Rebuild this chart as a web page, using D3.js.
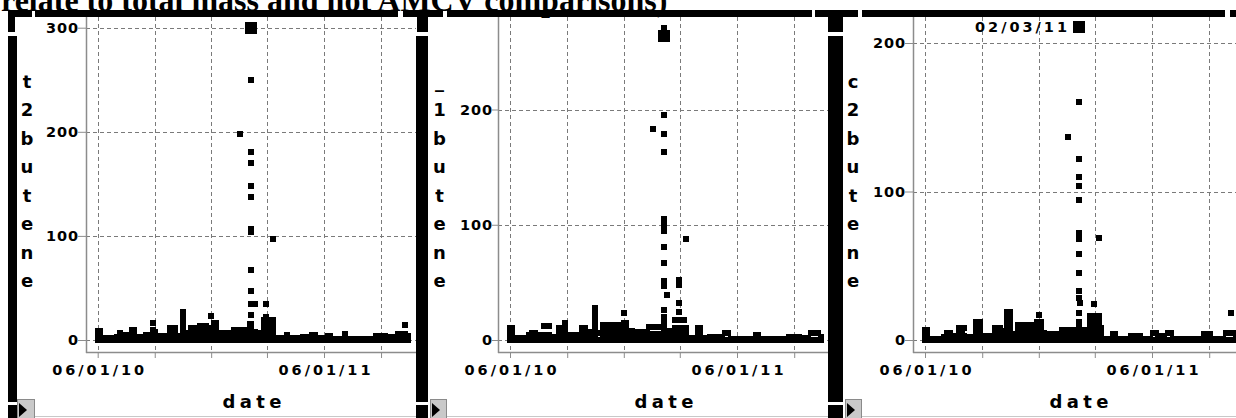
<!DOCTYPE html>
<html>
<head>
<meta charset="utf-8">
<script src="https://cdn.jsdelivr.net/npm/d3@7"></script>
<style>
  html, body { margin: 0; padding: 0; background: #fff; overflow: hidden; }
  svg { display: block; }
</style>
</head>
<body>
<svg id="chart" width="1236" height="418"></svg>
<script>
// Sampling days shared by the three butene series (one list of values per day)
const sampleDates = [
  "2010-06-01","2010-06-04","2010-06-09","2010-06-15","2010-06-21","2010-06-27",
  "2010-07-02","2010-07-07","2010-07-11","2010-07-16","2010-07-21","2010-07-26","2010-07-30",
  "2010-08-03","2010-08-08","2010-08-13","2010-08-18","2010-08-22","2010-08-26","2010-08-29",
  "2010-09-01","2010-09-07","2010-09-12","2010-09-17","2010-09-21","2010-09-25","2010-09-29",
  "2010-10-03","2010-10-07","2010-10-11","2010-10-16","2010-10-20","2010-10-24","2010-10-29",
  "2010-11-03","2010-11-08","2010-11-13","2010-11-18","2010-11-23","2010-11-28",
  "2010-12-01","2010-12-05","2010-12-09","2010-12-14","2010-12-19","2010-12-24","2010-12-29",
  "2011-01-03","2011-01-07","2011-01-11","2011-01-15","2011-01-17","2011-01-21","2011-01-25","2011-01-29",
  "2011-02-01","2011-02-03","2011-02-06","2011-02-09","2011-02-13","2011-02-17","2011-02-21","2011-02-24","2011-02-28",
  "2011-03-04","2011-03-08","2011-03-11","2011-03-15","2011-03-20","2011-03-25","2011-03-30",
  "2011-04-03","2011-04-08","2011-04-13","2011-04-18","2011-04-23","2011-04-28",
  "2011-05-03","2011-05-08","2011-05-13","2011-05-18","2011-05-23","2011-05-28",
  "2011-06-02","2011-06-07","2011-06-11","2011-06-16","2011-06-21","2011-06-26",
  "2011-07-01","2011-07-05","2011-07-10","2011-07-15","2011-07-20","2011-07-25","2011-07-30",
  "2011-08-04","2011-08-09","2011-08-14","2011-08-19","2011-08-24","2011-08-29",
  "2011-09-03","2011-09-08","2011-09-13","2011-09-18","2011-09-23","2011-09-28",
  "2011-10-02","2011-10-06","2011-10-10","2011-10-14"
];

const t2butene = [
  [0,5,9],[0,5,9],[0,2],[0,2],[0,2],[0,2],
  [0,3],[0,4,7],[0,5],[0,5],[0,4],[0,4,10],[0,4,10],
  [0,3],[0,3],[0,3],[0,5],[0,5],[0,5],[0,5,10,16],
  [0,4,8],[0,4],[0,4],[0,4],[0,4],[0,4,8,12],[0,4,8,12],
  [0,4,8,12],[0,4],[0,4],[0,5,10,15,20,24,27],[0,4,7],[0,4,7],[0,4,8,12],
  [0,4,8,12],[0,4,8,12],[0,4,8,13],[0,4,8,13],[0,4,8,13],[0,4,8,12],
  [0,4,8,12,23],[0,4,8,12,16],[0,4,8,12,16],[0,4,7],[0,4,7],[0,4,7],[0,4,7],
  [0,4,7],[0,5,10],[0,5,10],[0,5,10],[0,5,10,198],[0,5,10],[0,5,10],[0,5,10],
  [0,5,10,15],[0,5,10,15,24,35,47,67,104,107,137,148,170,181,250,300],[0,5,8],[0,5,8,35],[0,4,7],[0,4,7],[0,4,7],[0,5,10,15,19],[0,5,10,15,19,22,35],
  [0,5,10,15,19],[0,5,10,15,19],[0,5,10,15,19,97],[0,2],[0,2],[0,2],[0,2],
  [0,5],[0,2],[0,2],[0,2],[0,2],[0,3],
  [0,3],[0,3],[0,5],[0,5],[0,2],[0,2],
  [0,2],[0,4],[0,4],[0,1],[0,1],[0,1],
  [0,1],[0,6],[0,1],[0,1],[0,1],[0,1],[0,1],
  [0,1],[0,1],[0,1],[0,1],[0,4],[0,4],
  [0,4],[0,4],[0,3],[0,3],[0,3],[0,6],
  [0,6],[0,6],[0,6,14],[0,4]
];

const _1butene = [
  [0,5,10],[0,5,10],[0,2],[0,2],[0,2],[0,2],
  [0,4],[0,3,6],[0,6],[0,4],[0,4],[0,4,12],[0,4,12],
  [0,4,12],[0,3],[0,3],[0,5,10],[0,5,10],[0,5,10],[0,5,10,15],
  [0,4],[0,4],[0,4],[0,4],[0,4],[0,5,10],[0,5,10],
  [0,4,7],[0,4,7],[0,6],[0,5,10,15,20,25,28],[0,6],[0,6],[0,5,10,13],
  [0,5,10,13],[0,5,10,13],[0,5,8],[0,5,10,13],[0,5,10,13],[0,5,8],
  [0,5,10,15,23],[0,5,10,15],[0,4,8],[0,4,8],[0,4,7],[0,4,7],[0,4,7],
  [0,4,7],[0,4,7],[0,5,11],[0,5,11],[0,5,11,183],[0,5,11],[0,5,11],[0,5,11],
  [0,5,11],[0,5,10,15,20,26,47,51,67,81,95,100,105,163,179,195,264,271],[0,5,8],[0,5,8,39],[0,5,8],[0,5,8],[0,5,10,17],[0,5,10,17],[0,5,10,17,24,32,48,52],
  [0,5,10,17],[0,5,10,17],[0,5,10,88],[0,2],[0,2],[0,2],[0,5,10],
  [0,5,10],[0,2],[0,2],[0,3],[0,3],[0,3],
  [0,3],[0,3],[0,6],[0,6],[0,1],[0,1],
  [0,1],[0,1],[0,1],[0,1],[0,1],[0,1],
  [0,4],[0,4],[0,1],[0,1],[0,1],[0,1],[0,1],
  [0,1],[0,1],[0,1],[0,1],[0,3],[0,3],
  [0,3],[0,3],[0,2],[0,2],[0,2],[0,6],
  [0,6],[0,6],[0,6],[0,3]
];

const c2butene = [
  [0,4,7],[0,4,7],[0,1],[0,1],[0,1],[0,1],
  [0,2],[0,3,5],[0,5],[0,3],[0,3],[0,4,8],[0,4,8],
  [0,3,8],[0,2],[0,2],[0,2],[0,4,8,12],[0,4,8,12],[0,4,8,12],
  [0,3],[0,3],[0,3],[0,3],[0,4,8],[0,4,8],[0,4,8],
  [0,3,6],[0,3,6],[0,4,8,12,16,19],[0,4,8,12,16,19],[0,4],[0,4],[0,4,8,10],
  [0,4,8,10],[0,4,8,10],[0,4,8,10],[0,4,8,10],[0,4,8,10],[0,4,8,12],
  [0,4,8,12,17],[0,4,8,12],[0,5],[0,4],[0,4],[0,4],[0,4],
  [0,4],[0,4,7],[0,4,7],[0,4,7],[0,4,7,137],[0,4,7],[0,4,7],[0,4,7],
  [0,4,7],[0,4,8,12,18,28,33,45,58,68,72,94,104,110,122,160,211],[0,4,7,25],[0,4,7],[0,4,7],[0,4],[0,4,8,12,16],[0,4,8,12,16],[0,4,8,12,16,24],
  [0,4,8,12,16],[0,4,8,12,16,69],[0,4,8],[0,1],[0,1],[0,1],[0,4],
  [0,4],[0,1],[0,1],[0,1],[0,1],[0,3],
  [0,3],[0,3],[0,3],[0,1],[0,1],[0,1],
  [0,5],[0,5],[0,3],[0,3],[0,3],[0,5],
  [0,5],[0,1],[0,1],[0,1],[0,1],[0,1],[0,1],
  [0,1],[0,1],[0,1],[0,1],[0,4],[0,4],
  [0,4],[0,1],[0,1],[0,1],[0,1],[0,5],
  [0,5],[0,5,18],[0,5],[0,4]
];

const seriesNames = ["t2butene", "_1butene", "c2butene"];
const selectedDate = "2011-02-03";
const selectedValues = [300, 264, 211];
const yTickValues = [[0, 100, 200, 300], [0, 100, 200], [0, 100, 200]];
const xTickDates = ["2010-06-01", "2010-09-01", "2010-12-01", "2011-03-01", "2011-06-01", "2011-09-01"];
const xLabelDates = ["2010-06-01", "2011-06-01"];
const xAxisTitle = "date";
const titleText = "relate to total mass and not AMCV comparisons)";

// ---- drawing ----
const parseDay = d3.timeParse("%Y-%m-%d");
const keyDay = d3.timeFormat("%Y-%m-%d");
const fmtDay = d3.timeFormat("%m/%d/%y");
const svg = d3.select("#chart");
const defs = svg.append("defs");

const plotTop = 17, plotBottom = 352, zeroY = 340;
const gridColor = "#7a7a7a", axisColor = "#8c8c8c";
const labelFont = "'DejaVu Sans', Verdana, sans-serif";
const seriesValues = [t2butene, _1butene, c2butene];

// Per-panel geometry of the report frames and plot areas
const panels = [
  { axisX: 86,  xStart: 97.7, xEnd: 324,  yRef: 27.7,  clipR: 416,  labelR: 78,  letterX: 27,
    tBar: [8, 32],   stem: [8, 15],    main: [35, 398],   side: [8, 17],    button: [17, 35],   pointLabel: false },
  { axisX: 498, xStart: 510,  xEnd: 737,  yRef: 109.5, clipR: 828,  labelR: 492, letterX: 439.5,
    tBar: [403, 443], stem: [417, 428], main: [447, 812], side: [416, 428], button: [430, 447], pointLabel: false },
  { axisX: 913, xStart: 925,  xEnd: 1152, yRef: 43,    clipR: 1236, labelR: 905, letterX: 853,
    tBar: [815, 858], stem: [828, 843], main: [862, 1225], side: [828, 843], button: [845, 862], pointLabel: true }
];

// Title line (partly above the window)
svg.append("text")
  .attr("x", 1).attr("y", 11)
  .attr("font-family", "'Liberation Serif', 'Times New Roman', serif")
  .attr("font-weight", "bold").attr("font-size", 32)
  .attr("fill", "#000")
  .text(titleText);

panels.forEach((p, i) => {
  const ticksY = yTickValues[i];
  const x = d3.scaleTime()
    .domain([parseDay(xLabelDates[0]), parseDay(xLabelDates[1])])
    .range([p.xStart, p.xEnd]);
  const y = d3.scaleLinear()
    .domain([0, ticksY[ticksY.length - 1]])
    .range([zeroY, p.yRef]);

  const g = svg.append("g");
  const clipId = "plot-clip-" + i;
  defs.append("clipPath").attr("id", clipId).append("rect")
    .attr("x", p.axisX).attr("y", plotTop)
    .attr("width", p.clipR - p.axisX).attr("height", plotBottom - plotTop);
  const plot = g.append("g").attr("clip-path", `url(#${clipId})`);

  // dashed reference grid
  plot.selectAll(".hgrid").data(ticksY).join("line")
    .attr("x1", p.axisX).attr("x2", p.clipR)
    .attr("y1", d => Math.round(y(d)) + 0.5).attr("y2", d => Math.round(y(d)) + 0.5)
    .attr("stroke", gridColor).attr("stroke-dasharray", "4,3");
  plot.selectAll(".vgrid").data(xTickDates.map(parseDay)).join("line")
    .attr("x1", d => Math.round(x(d)) + 0.5).attr("x2", d => Math.round(x(d)) + 0.5)
    .attr("y1", plotTop).attr("y2", plotBottom)
    .attr("stroke", gridColor).attr("stroke-dasharray", "4,3");

  // square markers, one per observation
  const pts = sampleDates.flatMap((ds, k) =>
    seriesValues[i][k].map(v => ({ date: parseDay(ds), v })));
  plot.selectAll(".pt").data(pts).join("rect")
    .attr("x", d => Math.round(x(d.date) - 3))
    .attr("y", d => Math.round(y(d.v) - 3))
    .attr("width", 6).attr("height", 6)
    .attr("fill", "#000");

  // selected observation, drawn enlarged
  const sel = { date: parseDay(selectedDate), v: selectedValues[i] };
  plot.append("rect")
    .attr("x", Math.round(x(sel.date) - 6)).attr("y", Math.round(y(sel.v) - 6))
    .attr("width", 12).attr("height", 12).attr("fill", "#000");
  if (p.pointLabel) {
    plot.append("text")
      .attr("x", Math.round(x(sel.date)) - 12).attr("y", Math.round(y(sel.v)) + 5)
      .attr("text-anchor", "end")
      .attr("font-family", labelFont).attr("font-weight", "bold").attr("font-size", 14.5)
      .attr("textLength", 92).attr("lengthAdjust", "spacing")
      .text(fmtDay(sel.date));
  }

  // axis lines
  g.append("line")
    .attr("x1", p.axisX + 0.5).attr("x2", p.axisX + 0.5)
    .attr("y1", plotTop).attr("y2", plotBottom + 1)
    .attr("stroke", axisColor).attr("stroke-width", 1.5);
  g.append("line")
    .attr("x1", p.axisX).attr("x2", p.clipR)
    .attr("y1", plotBottom + 0.5).attr("y2", plotBottom + 0.5)
    .attr("stroke", axisColor).attr("stroke-width", 1.5);

  // y axis ticks and labels
  const yAxis = g.append("g").attr("transform", `translate(${p.axisX},0)`)
    .call(d3.axisLeft(y).tickValues(ticksY).tickSize(p.axisX - p.labelR).tickSizeOuter(0).tickPadding(0));
  yAxis.select(".domain").remove();
  yAxis.selectAll(".tick line").attr("stroke", axisColor);
  yAxis.selectAll(".tick text")
    .attr("font-family", labelFont).attr("font-weight", "bold").attr("font-size", 14.5).attr("fill", "#000")
    .each(function (d) {
      if (String(d).length > 1) d3.select(this).attr("textLength", 32).attr("lengthAdjust", "spacing");
    });

  // x axis ticks and labels
  const xAxis = g.append("g").attr("transform", `translate(0,${plotBottom})`)
    .call(d3.axisBottom(x).tickValues(xTickDates.map(parseDay)).tickSize(6).tickSizeOuter(0).tickPadding(7)
      .tickFormat(d => xLabelDates.includes(keyDay(d)) ? fmtDay(d) : ""));
  xAxis.select(".domain").remove();
  xAxis.selectAll(".tick line").attr("stroke", axisColor);
  xAxis.selectAll(".tick text")
    .attr("font-family", labelFont).attr("font-weight", "bold").attr("font-size", 14.5).attr("fill", "#000")
    .each(function (d) {
      if (xLabelDates.includes(keyDay(d))) d3.select(this).attr("textLength", 92).attr("lengthAdjust", "spacing");
    });

  // axis titles: stacked letters on the left, "date" below
  g.selectAll(".ytitle").data([...seriesNames[i]]).join("text")
    .attr("x", p.letterX).attr("y", (c, k) => 87.5 + k * 28.5)
    .attr("text-anchor", "middle")
    .attr("font-family", labelFont).attr("font-weight", "bold").attr("font-size", 18)
    .text(c => c);
  g.append("text")
    .attr("x", p.axisX + 166).attr("y", 408)
    .attr("text-anchor", "middle")
    .attr("font-family", labelFont).attr("font-weight", "bold").attr("font-size", 18)
    .attr("textLength", 59).attr("lengthAdjust", "spacing")
    .text(xAxisTitle);

  // report outline frame
  const frame = svg.append("g").attr("fill", "#000");
  frame.append("rect").attr("x", p.tBar[0]).attr("y", 10).attr("width", p.tBar[1] - p.tBar[0]).attr("height", 7);
  frame.append("rect").attr("x", p.stem[0]).attr("y", 10).attr("width", p.stem[1] - p.stem[0]).attr("height", 22);
  frame.append("rect").attr("x", p.main[0]).attr("y", 10).attr("width", p.main[1] - p.main[0]).attr("height", 7);
  frame.append("rect").attr("x", p.side[0]).attr("y", 36).attr("width", p.side[1] - p.side[0]).attr("height", 366);
  frame.append("rect").attr("x", p.side[0]).attr("y", 405).attr("width", p.side[1] - p.side[0]).attr("height", 13);

  // disclosure button and bottom rule
  const bx = p.button[0], bw = p.button[1] - p.button[0];
  svg.append("line")
    .attr("x1", p.button[1]).attr("x2", p.clipR)
    .attr("y1", 416.5).attr("y2", 416.5)
    .attr("stroke", "#c8c8c8").attr("stroke-width", 1);
  svg.append("rect").attr("x", bx + 0.5).attr("y", 399.5).attr("width", bw - 1).attr("height", 19)
    .attr("fill", "#c9c9c9").attr("stroke", "#8a8a8a");
  svg.append("path")
    .attr("d", `M${bx + 2},${403} L${bx + 2},${417} L${bx + 10},${410} Z`)
    .attr("fill", "#000");
});

// trailing outline piece at the right edge
svg.append("rect").attr("x", 1230).attr("y", 10).attr("width", 6).attr("height", 7).attr("fill", "#000");
</script>
</body>
</html>
